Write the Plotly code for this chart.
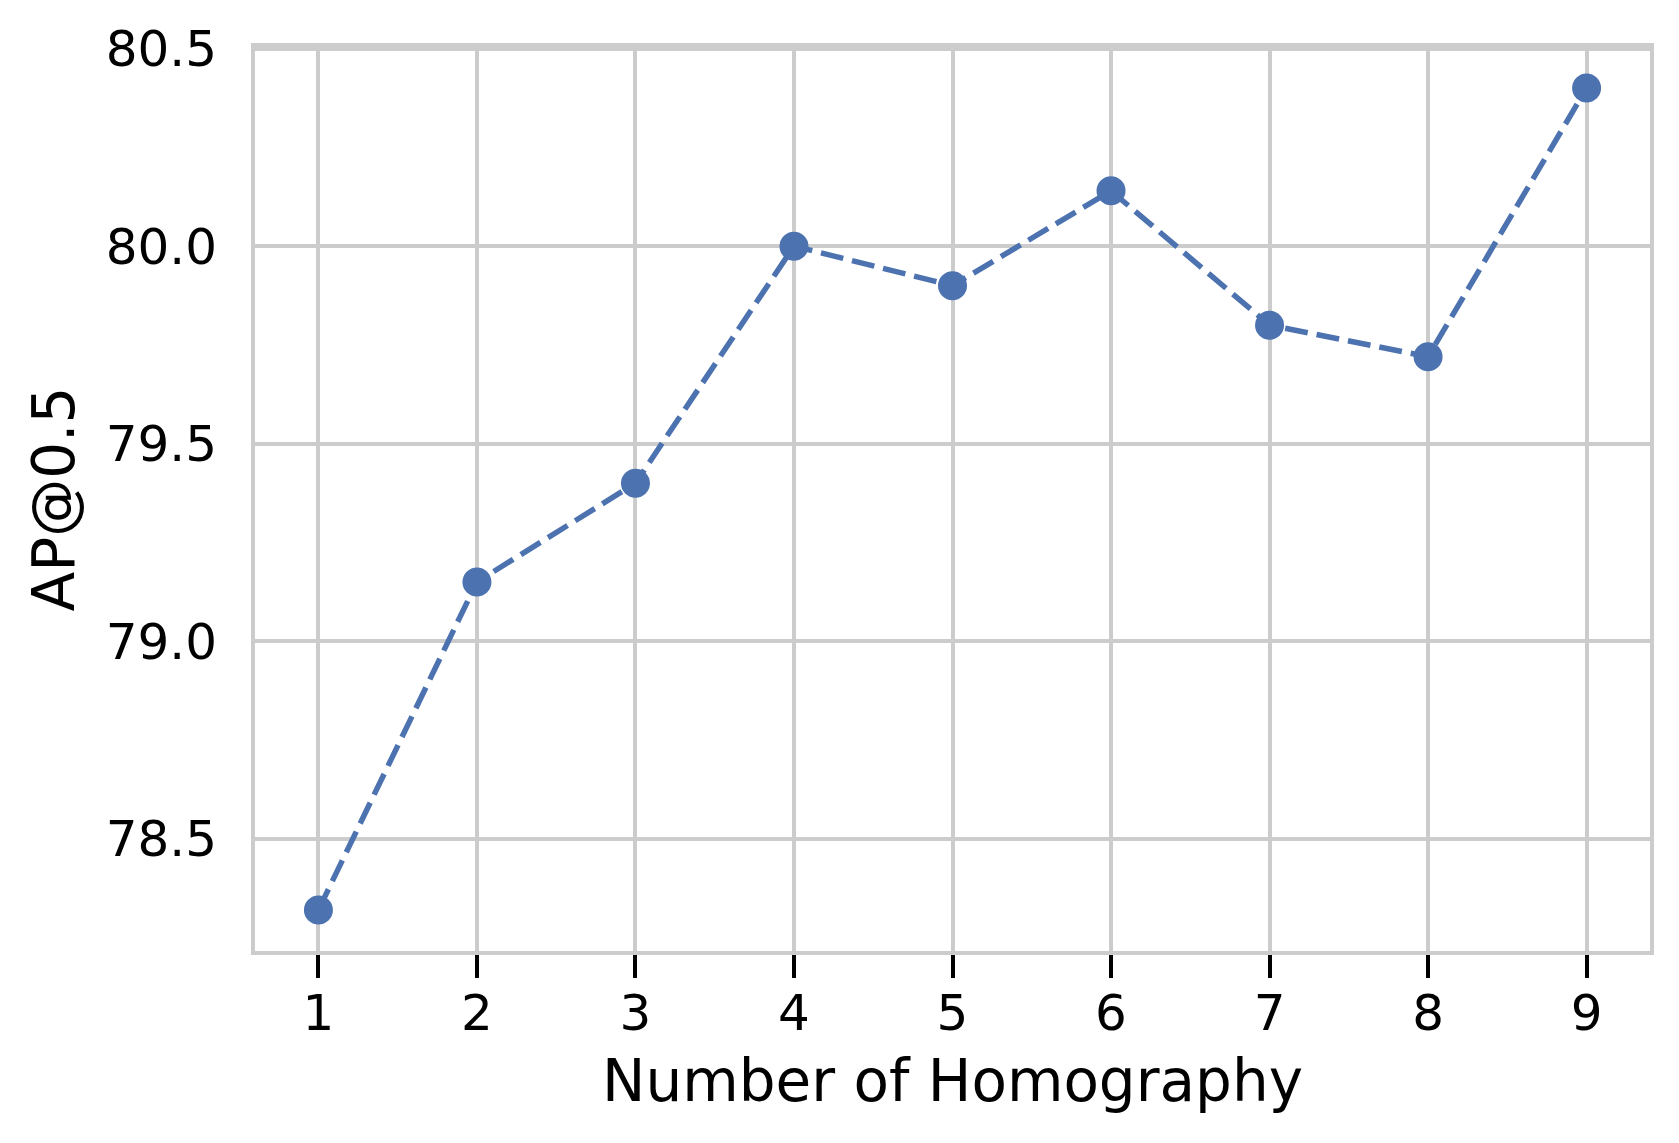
import plotly.graph_objects as go

# numero de homografias y AP@0.5
num_homografias = [1, 2, 3, 4, 5, 6, 7, 8, 9]
ap50 = [78.32, 79.15, 79.40, 80.00, 79.90, 80.14, 79.80, 79.72, 80.40]

x_ticks = [1, 2, 3, 4, 5, 6, 7, 8, 9]
y_ticks = [78.5, 79.0, 79.5, 80.0, 80.5]
y_ticktext = ['78.5', '79.0', '79.5', '80.0', '80.5']

azul = '#4c72b0'
gris = '#cccccc'

fig = go.Figure()
fig.add_trace(go.Scatter(
    x=num_homografias, y=ap50,
    mode='lines+markers',
    line=dict(color=azul, width=5.5, dash='23px,9px'),
    marker=dict(color=azul, size=29),
    showlegend=False
))

# la pagina mete un margen de 8px en el body, se compensa aqui
fig.update_layout(
    width=1679, height=1143,
    margin=dict(l=247, r=37, t=39, b=200),
    plot_bgcolor='white',
    paper_bgcolor='white',
    font=dict(family='DejaVu Sans', size=50, color='black'),
)

fig.update_xaxes(
    range=[0.6, 9.4],
    tickvals=x_ticks,
    automargin=False,
    showgrid=True, gridcolor=gris, gridwidth=3.5,
    showline=True, linecolor=gris, linewidth=4, mirror=True,
    ticks='outside', ticklen=23, tickwidth=4, tickcolor='black',
    ticklabelstandoff=-8,
    tickfont=dict(size=50),
    zeroline=False,
    title=dict(text='Number of Homography', font=dict(size=58), standoff=20),
)
fig.update_yaxes(
    range=[78.216, 80.504],
    tickvals=y_ticks, ticktext=y_ticktext,
    automargin=False,
    showgrid=True, gridcolor=gris, gridwidth=3.5,
    showline=True, linecolor=gris, linewidth=4, mirror=True,
    ticks='', ticklabelstandoff=24,
    tickfont=dict(size=50),
    zeroline=False,
    title=dict(text='AP@0.5', font=dict(size=58), standoff=13),
)

fig.write_html('out.html')
